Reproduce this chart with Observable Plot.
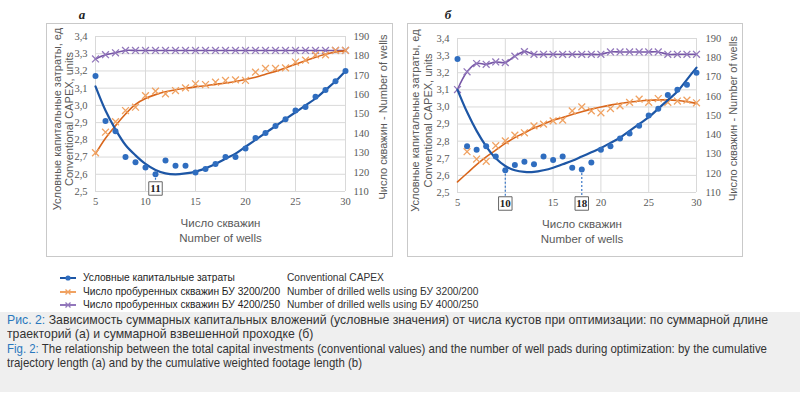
<!DOCTYPE html>
<html><head><meta charset="utf-8">
<script src="https://cdn.jsdelivr.net/npm/d3@7"></script>
<script src="https://cdn.jsdelivr.net/npm/@observablehq/plot@0.6"></script>
<style>
html,body{margin:0;padding:0;}
body{width:800px;height:395px;position:relative;background:#fff;overflow:hidden;font-family:"Liberation Sans",Arial,sans-serif;}
.frame{position:absolute;border:1px solid #c9c9c9;box-sizing:border-box;}
.panel{position:absolute;}
.ptitle{position:absolute;font-family:"Liberation Serif",serif;font-style:italic;font-weight:bold;font-size:13px;color:#222;transform:translate(-50%,-50%);}
.legend{position:absolute;left:0;top:271px;font-size:10.2px;color:#1e1e1e;}
.lrow{position:absolute;height:14px;white-space:nowrap;}
.lrow svg{position:absolute;left:60px;top:0;}
.lrow .ru{position:absolute;left:83px;top:0;line-height:14px;}
.lrow .en{position:absolute;left:287px;top:0;line-height:14px;color:#333;}
.caption{position:absolute;left:0;top:312px;width:800px;height:80px;background:#efefef;}
.cline{position:absolute;left:7px;white-space:nowrap;font-family:"Liberation Sans Narrow","Liberation Sans",Arial,sans-serif;font-size:13.6px;line-height:14px;color:#333;transform-origin:0 50%;}
.cline b{font-weight:normal;color:#2a78bd;}
</style></head><body>
<script>
// ---- data ----
const wells = [5,6,7,8,9,10,11,12,13,14,15,16,17,18,19,20,21,22,23,24,25,26,27,28,29,30];
// panel а
const capexA      = [3.17,2.91,2.85,2.70,2.67,2.64,2.60,2.68,2.65,2.65,2.61,2.63,2.66,2.70,2.70,2.75,2.81,2.84,2.88,2.92,2.97,2.99,3.05,3.09,3.14,3.20];
const capexTrendA = [3.11,2.97,2.86,2.77,2.71,2.66,2.625,2.605,2.60,2.605,2.615,2.635,2.66,2.69,2.72,2.76,2.80,2.84,2.88,2.92,2.96,3.00,3.04,3.09,3.14,3.20];
const drill32A      = [130,140.6,146,151.8,153.5,159.5,161.8,160.4,162.1,163.5,165.6,165.2,166.4,167.3,167.6,167.3,171.6,173.5,173.5,173.8,176.8,177.8,180.5,180.5,182.8,182.8];
const drill32TrendA = [129.5,137.5,144,150,155,158,160,161.5,162.5,163.3,164,164.6,165.3,166,166.8,167.8,169,170.5,172,173.8,175.7,177.5,179.3,180.8,182,182.6];
const drill42A      = [178.4,180.6,181.6,182.8,182.8,182.8,182.8,182.8,182.8,182.8,182.8,182.8,182.8,182.8,182.8,182.8,182.8,182.8,182.8,182.8,182.8,182.8,182.8,182.8,182.8,182.8];
const markA = [11];
// panel б
const capexB      = [3.28,2.77,2.75,2.77,2.71,2.63,2.66,2.68,2.665,2.71,2.69,2.71,2.645,2.635,2.675,2.75,2.77,2.815,2.845,2.89,2.95,2.99,3.07,3.10,3.13,3.20];
const capexTrendB = [3.10,2.97,2.86,2.77,2.70,2.655,2.63,2.62,2.62,2.63,2.645,2.665,2.685,2.71,2.735,2.76,2.79,2.82,2.86,2.90,2.94,2.99,3.04,3.09,3.16,3.23];
const drill32B      = [null,131.2,127.4,126.2,134.3,136.8,139.8,141,144.6,145.5,147.2,147.6,152.4,154.5,152.4,151.4,153.6,155,156.8,158.5,156.8,158.8,156.8,157.5,158,156.6];
const drill32TrendB = [115.5,120,124.5,128.5,132,135.5,138.5,141,143.5,145.5,147.5,149,150.5,152,153.3,154.4,155.4,156.2,157,157.5,157.9,158.1,158.1,157.8,157.2,156.3];
const drill42B      = [163.5,172.7,177,176.6,177.8,177.5,180.8,183.2,181.8,181.8,181.8,181.8,181.8,181.8,181.8,181.8,183,183,183,183,183,183,181.8,181.8,181.8,181.8];
const markB = [10,18];
// ticks
const leftTicks  = [2.5,2.6,2.7,2.8,2.9,3.0,3.1,3.2,3.3,3.4];
const rightTicks = [110,120,130,140,150,160,170,180,190];
const xTicks     = [5,10,15,20,25,30];
// texts
const yTitleRu = "Условные капитальные затраты, ед";
const yTitleEn = "Conventional CAPEX, units";
const y2Title  = "Число скважин - Number of wells";
const xTitleRu = "Число скважин";
const xTitleEn = "Number of wells";
const legendRu = ["Условные капитальные затраты","Число пробуренных скважин БУ 3200/200","Число пробуренных скважин БУ 4200/250"];
const legendEn = ["Conventional CAPEX","Number of drilled wells using БУ 3200/200","Number of drilled wells using БУ 4000/250"];

const C = {blueLine:"#1d56a5", blueDot:"#2f6dbf", orLine:"#d8661c", orMark:"#f0a262", puLine:"#7656a6", puMark:"#9277bb", grid:"#d9d9d9", txt:"#595959"};

const L0=2.5,L1=3.4,R0=110,R1=190;
const toL = v => v==null ? null : L0 + (v-R0)*(L1-L0)/(R1-R0);
const fromL = v => R0 + (v-L0)*(R1-R0)/(L1-L0);

function panel(cfg){
  const data = wells.map((w,i)=>({w, c:cfg.capex[i], ct:cfg.capexTrend[i], o:toL(cfg.d32[i]), ot:toL(cfg.d32t[i]), p:toL(cfg.d42[i])}));
  const marks = cfg.marks.map(m=>({w:m, v:cfg.capex[wells.indexOf(m)]}));
  const sans = "Liberation Sans, Arial, sans-serif";
  const tickX = cfg.hideTicks ? xTicks.filter(t=>!cfg.marks.includes(t)) : xTicks;
  return Plot.plot({
    width:cfg.width, height:cfg.height,
    marginLeft:cfg.ml, marginRight:cfg.mr, marginTop:cfg.mt, marginBottom:cfg.mb,
    x:{domain:[5,30]}, y:{domain:[L0,L1]},
    style:{fontFamily:"Liberation Serif, serif", fontSize:"10.5px", color:C.txt, background:"transparent", overflow:"visible"},
    marks:[
      Plot.gridY(leftTicks,{stroke:C.grid, strokeOpacity:1}),
      Plot.gridX(xTicks,{stroke:C.grid, strokeOpacity:1}),
      Plot.axisY(leftTicks,{tickSize:0, tickPadding:8, tickFormat:d=>d.toFixed(1).replace(".",","), label:null}),
      Plot.axisY(rightTicks.map(toL),{anchor:"right", tickSize:0, tickPadding:cfg.rpad, tickFormat:d=>String(Math.round(fromL(d))), label:null}),
      Plot.axisX(tickX,{tickSize:0, tickPadding:6, label:null}),
      Plot.text([yTitleRu],{text:d=>d, frameAnchor:"left", textAnchor:"middle", rotate:-90, dx:cfg.ylt1, dy:5, fontFamily:sans, fontSize:11, fill:C.txt}),
      Plot.text([yTitleEn],{text:d=>d, frameAnchor:"left", textAnchor:"middle", rotate:-90, dx:cfg.ylt2, dy:5, fontFamily:sans, fontSize:11, fill:C.txt}),
      Plot.text([y2Title],{text:d=>d, frameAnchor:"right", textAnchor:"middle", rotate:-90, dx:cfg.yrt, dy:3, fontFamily:sans, fontSize:11, fill:C.txt}),
      Plot.text([xTitleRu],{text:d=>d, frameAnchor:"bottom", dx:cfg.xtdx, dy:35, fontFamily:sans, fontSize:11.5, fill:C.txt}),
      Plot.text([xTitleEn],{text:d=>d, frameAnchor:"bottom", dx:cfg.xtdx, dy:50, fontFamily:sans, fontSize:11.5, fill:C.txt}),
      Plot.line(data,{x:"w", y:"p", curve:"catmull-rom", stroke:C.puLine, strokeWidth:1.6}),
      Plot.dot(data,{x:"w", y:"p", symbol:"times", r:3.2, stroke:C.puMark, strokeWidth:1.3}),
      Plot.line(data,{x:"w", y:"ot", curve:"catmull-rom", stroke:C.orLine, strokeWidth:1.6}),
      Plot.dot(data.filter(d=>d.o!=null),{x:"w", y:"o", symbol:"times", r:3.2, stroke:C.orMark, strokeWidth:1.3}),
      Plot.line(data,{x:"w", y:"ct", curve:"catmull-rom", stroke:C.blueLine, strokeWidth:2.2}),
      Plot.dot(data,{x:"w", y:"c", r:3, fill:C.blueDot}),
      Plot.ruleX(marks,{x:"w", y1:"v", y2:L0, insetBottom:-cfg.ruleExt, stroke:"#3a78c8", strokeWidth:1.2, strokeDasharray:"2,2"}),
      Plot.dot(marks,{x:"w", frameAnchor:"bottom", dy:cfg.boxDy, symbol:"square", r:7.6, fill:"white", stroke:"#666", strokeWidth:1}),
      Plot.text(marks,{x:"w", text:d=>String(d.w), frameAnchor:"bottom", lineAnchor:"middle", dy:cfg.boxDy, fontWeight:"bold", fontSize:11, fill:"#222"})
    ]
  });
}

function place(el, left, top){ const d=document.createElement("div"); d.className="panel"; d.style.left=left+"px"; d.style.top=top+"px"; d.appendChild(el); document.body.appendChild(d); }
function frame(l,t,w,h){ const f=document.createElement("div"); f.className="frame"; Object.assign(f.style,{left:l+"px",top:t+"px",width:w+"px",height:h+"px"}); document.body.appendChild(f); }
function ptitle(txt,x,y){ const t=document.createElement("div"); t.className="ptitle"; t.textContent=txt; t.style.left=x+"px"; t.style.top=y+"px"; document.body.appendChild(t); }

frame(46,23,347,234);
frame(407,23,336,234);
ptitle("а",82,15);
ptitle("б",448,15);

place(panel({capex:capexA, capexTrend:capexTrendA, d32:drill32A, d32t:drill32TrendA, d42:drill42A, marks:markA,
  width:347, height:234, ml:49, mr:48, mt:13, mb:66, rpad:8, ylt1:-38, ylt2:-26, yrt:38, xtdx:0,
  ruleExt:0, boxDy:-3, hideTicks:false}), 46, 23);
place(panel({capex:capexB, capexTrend:capexTrendB, d32:drill32B, d32t:drill32TrendB, d42:drill42B, marks:markB,
  width:336, height:234, ml:50, mr:47, mt:15, mb:65, rpad:9, ylt1:-42, ylt2:-29, yrt:37, xtdx:5,
  ruleExt:6, boxDy:11, hideTicks:true}), 407, 23);

// legend
const leg = document.createElement("div"); leg.className="legend"; document.body.appendChild(leg);
const swatch = [
  `<line x1="0" y1="7" x2="16" y2="7" stroke="${C.blueLine}" stroke-width="2"/><circle cx="8" cy="7" r="2.6" fill="${C.blueDot}"/>`,
  `<line x1="0" y1="7" x2="16" y2="7" stroke="${C.orMark}" stroke-width="2"/><path d="M5.5,4.5L10.5,9.5M10.5,4.5L5.5,9.5" stroke="${C.orMark}" stroke-width="1.3"/>`,
  `<line x1="0" y1="7" x2="16" y2="7" stroke="${C.puMark}" stroke-width="2"/><path d="M5.5,4.5L10.5,9.5M10.5,4.5L5.5,9.5" stroke="${C.puMark}" stroke-width="1.3"/>`
];
legendRu.forEach((t,i)=>{
  const r=document.createElement("div"); r.className="lrow"; r.style.top=(i*13.5)+"px";
  r.innerHTML=`<svg width="16" height="14">${swatch[i]}</svg><span class="ru">${t}</span><span class="en">${legendEn[i]}</span>`;
  leg.appendChild(r);
});

// caption
const cap = document.createElement("div"); cap.className="caption"; document.body.appendChild(cap);
const capLines = [
  "<b>Рис. 2:</b> Зависимость суммарных капитальных вложений (условные значения) от числа кустов при оптимизации: по суммарной длине",
  "траекторий (а) и суммарной взвешенной проходке (б)",
  "<b>Fig. 2:</b> The relationship between the total capital investments (conventional values) and the number of well pads during optimization: by the cumulative",
  "trajectory length (a) and by the cumulative weighted footage length (b)"
];
const spans = capLines.map((h,i)=>{ const s=document.createElement("div"); s.className="cline"; s.innerHTML=h; s.style.top=(1+i*14.3)+"px"; cap.appendChild(s); return s; });
const targetW = [761, null, 760, null];
const k0 = targetW[0]/spans[0].getBoundingClientRect().width;
const k2 = targetW[2]/spans[2].getBoundingClientRect().width;
spans.forEach((s,i)=>{ const k = i<2 ? k0 : k2; s.style.transform=`scaleX(${k})`; });
</script>
</body></html>
